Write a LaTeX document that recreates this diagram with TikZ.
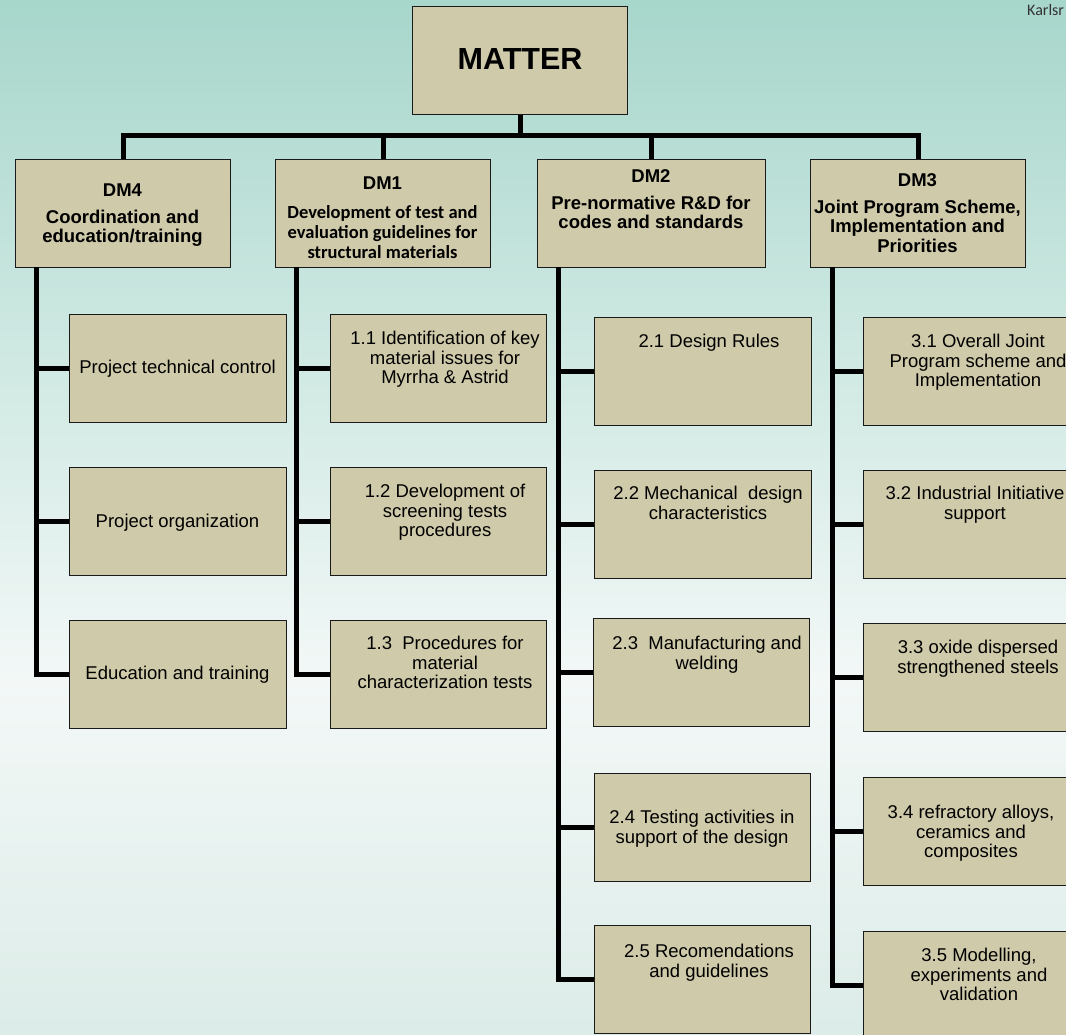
\documentclass[tikz,border=0pt]{standalone}
\usepackage{fontspec}
\setmainfont{Liberation Sans}
\newfontfamily\calib{Carlito}
\definecolor{boxfill}{HTML}{CFCAA9}
\definecolor{bgtop}{HTML}{A7D6CB}
\definecolor{bgmid}{HTML}{C9E6DF}
\definecolor{bglight}{HTML}{F3F8F7}
\definecolor{bgbot}{HTML}{DCECE8}
\definecolor{edge}{HTML}{1A1A1A}
\begin{document}
\begin{tikzpicture}[x=1pt,y=-1pt,
  box/.style={draw=edge, line width=1.3pt, fill=boxfill, anchor=north west, inner sep=0pt, minimum height=108pt},
  conn/.style={line width=5pt, draw=black, line join=miter},
  body/.style={anchor=base, align=center, inner sep=0pt, font=\fontsize{18.5}{19.5}\selectfont, text=black},
  head/.style={anchor=base, align=center, inner sep=0pt, font=\bfseries\fontsize{18.5}{19.5}\selectfont, text=black},
]
\useasboundingbox (0,0) rectangle (1066,1034);
\clip (0,0) rectangle (1066,1034);
% background
\shade[top color=bgtop, bottom color=bgmid] (0,-1) rectangle (1066,301);
\shade[top color=bgmid, bottom color=bglight] (0,300) rectangle (1066,681);
\shade[top color=bglight, bottom color=bgbot] (0,680) rectangle (1066,1035);

\node[anchor=base west, font=\calib\fontsize{16}{16}\selectfont, text=black!80, inner sep=0pt] (k) at (1027,15) {Karlsr};

% top
\node[box, minimum width=215pt] (m) at (412,6) {};
\node[font=\bfseries\fontsize{30.5}{32}\selectfont, inner sep=0pt] (mt) at (520,59) {MATTER};

\node[box, minimum width=215pt] (d4) at (15,159) {};
\node[box, minimum width=215pt] (d1) at (275,159) {};
\node[box, minimum width=228pt] (d2) at (537,159) {};
\node[box, minimum width=215pt] (d3) at (810,159) {};

% (anchor base = baseline of the last line)
\node[head] (d4t) at (122.5,242.5) {DM4\\[7.5pt]Coordination and\\education/training};
\node[head, font=\bfseries\fontsize{18.5}{20}\selectfont] (d1t) at (382.5,258) {DM1\\[9pt]\calib Development of test and\\\calib evaluation guidelines for\\\calib structural materials};
\node[head] (d2t) at (651,228.5) {DM2\\[7.5pt]Pre-normative R\&D for\\codes and standards};
\node[head] (d3t) at (917.5,252) {DM3\\[7.5pt]Joint Program Scheme,\\Implementation and\\Priorities};

% children
\node[box, minimum width=217pt] (a1) at (69,314) {};
\node[box, minimum width=217pt] (a2) at (69,467) {};
\node[box, minimum width=217pt] (a3) at (69,620) {};
\node[box, minimum width=216pt] (b1) at (330,314) {};
\node[box, minimum width=216pt] (b2) at (330,467) {};
\node[box, minimum width=216pt] (b3) at (330,620) {};
\node[box, minimum width=217pt] (c1) at (594,317) {};
\node[box, minimum width=217pt] (c2) at (594,470) {};
\node[box, minimum width=216pt] (c3) at (593,618) {};
\node[box, minimum width=216pt] (c4) at (594,773) {};
\node[box, minimum width=216pt] (c5) at (594,925) {};
\node[box, minimum width=216pt] (e1) at (863,317) {};
\node[box, minimum width=216pt] (e2) at (863,470) {};
\node[box, minimum width=216pt] (e3) at (863,623) {};
\node[box, minimum width=216pt] (e4) at (863,777) {};
\node[box, minimum width=216pt] (e5) at (863,931) {};

\node[body] (a1t) at (177.5,373.5) {Project technical control};
\node[body] (a2t) at (177.5,527.5) {Project organization};
\node[body] (a3t) at (177.5,679.5) {Education and training};
\node[body] (b1t) at (445,383.5) {1.1 Identification of key\\material issues for\\Myrrha \& Astrid};
\node[body] (b2t) at (445,536.5) {1.2 Development of\\screening tests\\procedures};
\node[body] (b3t) at (445,688.5) {1.3\ \ Procedures for\\material\\characterization tests};
\node[body] (c1t) at (709,347.5) {2.1 Design Rules};
\node[body] (c2t) at (708,519) {2.2 Mechanical\ \ design\\characteristics};
\node[body] (c3t) at (707,669) {2.3\ \ Manufacturing and\\welding};
\node[body] (c4t) at (702,843) {2.4 Testing activities in\\support of the design};
\node[body] (c5t) at (709,977) {2.5 Recomendations\\and guidelines};
\node[body] (e1t) at (978,386.5) {3.1 Overall Joint\\Program scheme and\\Implementation};
\node[body] (e2t) at (975,519) {3.2 Industrial Initiative\\support};
\node[body] (e3t) at (978,673) {3.3 oxide dispersed\\strengthened steels};
\node[body] (e4t) at (971,857.5) {3.4 refractory alloys,\\ceramics and\\composites};
\node[body] (e5t) at (979,1000.5) {3.5 Modelling,\\experiments and\\validation};

% connectors
\coordinate (bar) at (520,135.5);
\draw[conn] (m.south) -- (m.south |- bar);
\draw[conn] (d4.north) |- (bar) -| (d3.north);
\draw[conn] (d1.north) -- (d1.north |- bar);
\draw[conn] (d2.north) -- (d2.north |- bar);

\coordinate (s4) at (36,267);
\coordinate (s1) at (296,267);
\coordinate (s2) at (558,267);
\coordinate (s3) at (832,267);

\draw[conn] (s4) |- (a3.west);
\draw[conn] (s4 |- a1.west) -- (a1.west);
\draw[conn] (s4 |- a2.west) -- (a2.west);

\draw[conn] (s1) |- (b3.west);
\draw[conn] (s1 |- b1.west) -- (b1.west);
\draw[conn] (s1 |- b2.west) -- (b2.west);

\draw[conn] (s2) |- (c5.west);
\draw[conn] (s2 |- c1.west) -- (c1.west);
\draw[conn] (s2 |- c2.west) -- (c2.west);
\draw[conn] (s2 |- c3.west) -- (c3.west);
\draw[conn] (s2 |- c4.west) -- (c4.west);

\draw[conn] (s3) |- (e5.west);
\draw[conn] (s3 |- e1.west) -- (e1.west);
\draw[conn] (s3 |- e2.west) -- (e2.west);
\draw[conn] (s3 |- e3.west) -- (e3.west);
\draw[conn] (s3 |- e4.west) -- (e4.west);
\end{tikzpicture}
\end{document}
